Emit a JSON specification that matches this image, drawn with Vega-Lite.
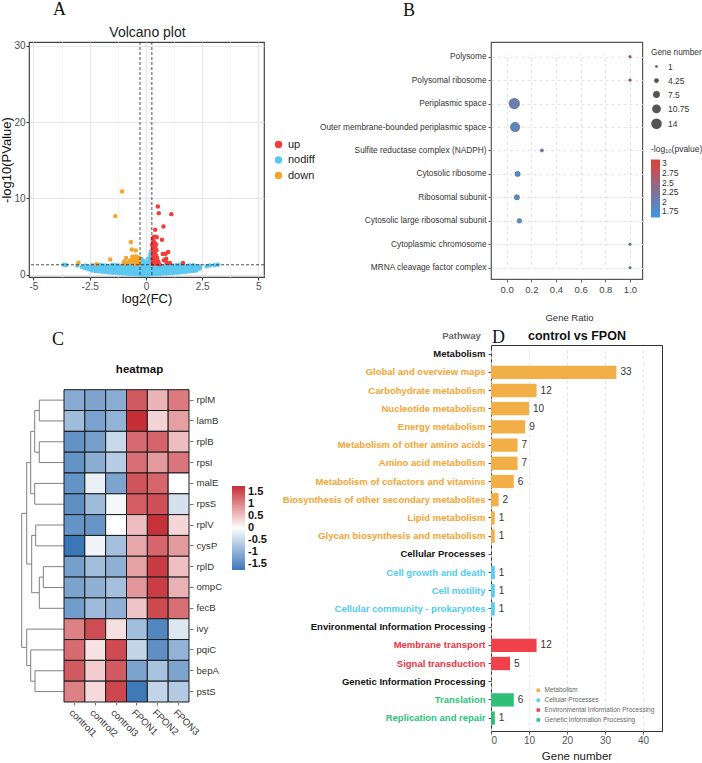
{
  "$schema": "https://vega.github.io/schema/vega-lite/v6.json",
  "background": "white",
  "padding": {"left": 0, "top": 0, "right": 0, "bottom": 0},
  "config": {
    "font": "Liberation Sans",
    "view": {"stroke": "#444", "strokeWidth": 1.2},
    "title": {"font": "Liberation Serif", "fontSize": 18, "fontWeight": "normal", "color": "#111", "anchor": "start", "frame": "group", "baseline": "alphabetic"},
    "axis": {"labelFont": "Liberation Sans", "titleFont": "Liberation Sans", "domain": false},
    "legend": {"labelFont": "Liberation Sans", "titleFont": "Liberation Sans", "padding": 0}
  },
  "bounds": "flush",
  "columns": 2,
  "spacing": {"row": 66, "column": 227},
  "resolve": {
    "scale": {"color": "independent", "size": "independent"},
    "legend": {"color": "independent", "size": "independent"}
  },
  "concat": [
    {
      "width": 235,
      "height": 235,
      "title": {"text": "A", "dx": 24, "offset": 6},
      "layer": [
        {
          "data": {"name": "volcano"},
          "mark": {"type": "circle", "size": 20, "opacity": 1},
          "encoding": {
            "x": {
              "field": "fc", "type": "quantitative",
              "scale": {"domain": [-5.2, 5.25], "nice": false, "zero": false},
              "axis": {
                "orient": "bottom",
                "values": [-5, -3.75, -2.5, -1.25, 0, 1.25, 2.5, 3.75, 5],
                "labelExpr": "indexof([-5, -2.5, 0, 2.5, 5], datum.value) >= 0 ? '' + datum.value : ''",
                "tickOpacity": {"condition": {"test": "indexof([-5, -2.5, 0, 2.5, 5], datum.value) < 0", "value": 0}, "value": 1},
                "gridColor": {"condition": {"test": "indexof([-5, -2.5, 0, 2.5, 5], datum.value) < 0", "value": "#F4F4F6"}, "value": "#E6E6EA"},
                "grid": true, "tickSize": 3, "tickColor": "#333",
                "labelColor": "#4D4D4D", "labelFontSize": 10, "labelPadding": 1,
                "title": "log2(FC)", "titleFontSize": 13, "titleFontWeight": "normal", "titleColor": "#111", "titlePadding": 1
              }
            },
            "y": {
              "field": "p", "type": "quantitative", "title": "-log10(PValue)",
              "scale": {"domain": [-0.3, 30.5], "nice": false, "zero": false},
              "axis": {
                "values": [0, 5, 10, 15, 20, 25, 30],
                "labelExpr": "indexof([0, 10, 20, 30], datum.value) >= 0 ? '' + datum.value : ''",
                "tickOpacity": {"condition": {"test": "indexof([0, 10, 20, 30], datum.value) < 0", "value": 0}, "value": 1},
                "gridColor": {"condition": {"test": "indexof([0, 10, 20, 30], datum.value) < 0", "value": "#F4F4F6"}, "value": "#E6E6EA"},
                "grid": true, "tickSize": 3, "tickColor": "#333",
                "labelColor": "#4D4D4D", "labelFontSize": 10, "labelPadding": 1,
                "titleFontSize": 13, "titleFontWeight": "normal", "titleColor": "#111", "titlePadding": 0
              }
            },
            "color": {
              "field": "g", "type": "nominal",
              "scale": {"domain": ["up", "nodiff", "down"], "range": ["#F23D3D", "#5BC8F2", "#F5A52A"]},
              "legend": {"title": null, "orient": "none", "legendX": 244, "legendY": 97, "labelFontSize": 11, "labelColor": "#222", "symbolSize": 55, "symbolType": "circle", "symbolStrokeWidth": 0, "rowPadding": 3.5, "labelOffset": 4}
            }
          }
        },
        {
          "data": {"values": [{"v": -0.263}, {"v": 0.263}]},
          "mark": {"type": "rule", "strokeDash": [3, 2], "color": "#222", "strokeWidth": 0.8},
          "encoding": {
            "x": {
              "field": "v", "type": "quantitative",
              "scale": {"domain": [-5.2, 5.25], "nice": false, "zero": false},
              "axis": {"orient": "top", "title": "Volcano plot", "labels": false, "ticks": false, "grid": false, "titleX": 118, "titleY": -6, "titleBaseline": "alphabetic", "titleAlign": "center", "titleFontSize": 14, "titleFontWeight": "normal", "titleColor": "#222"}
            }
          }
        },
        {
          "data": {"values": [{"h": 1.301}]},
          "mark": {"type": "rule", "strokeDash": [3, 2], "color": "#222", "strokeWidth": 0.8},
          "encoding": {"y": {"field": "h", "type": "quantitative", "title": "-log10(PValue)"}}
        }
      ],
      "resolve": {"scale": {"x": "independent"}}
    },
    {
      "width": 151.3,
      "height": 237,
      "title": {"text": "B", "dx": -88, "offset": 22},
      "view": {"stroke": "#555"},
      "data": {"name": "go"},
      "mark": {"type": "circle", "opacity": 1, "stroke": "#4A4A4A", "strokeWidth": 0.4},
      "encoding": {
        "x": {
          "field": "ratio", "type": "quantitative",
          "scale": {"domain": [-0.127, 1.1], "nice": false, "zero": false},
          "axis": {"values": [0, 0.2, 0.4, 0.6, 0.8, 1], "format": ".1f", "title": "Gene Ratio", "titleX": 78, "titleY": 41, "titleBaseline": "alphabetic", "titleAlign": "center", "titleFontSize": 9.5, "titleFontWeight": "normal", "titleColor": "#333", "grid": true, "gridDash": [3, 3], "gridColor": "#E3E3E3", "tickSize": 3, "tickColor": "#666", "labelFontSize": 9.5, "labelColor": "#444", "labelPadding": 2}
        },
        "y": {
          "field": "term", "type": "nominal",
          "sort": ["Polysome", "Polysomal ribosome", "Periplasmic space", "Outer membrane-bounded periplasmic space", "Sulfite reductase complex (NADPH)", "Cytosolic ribosome", "Ribosomal subunit", "Cytosolic large ribosomal subunit", "Cytoplasmic chromosome", "MRNA cleavage factor complex"],
          "scale": {"type": "point", "range": [14.7, 225.7], "padding": 0},
          "axis": {"title": null, "grid": true, "gridDash": [3, 3], "gridColor": "#E3E3E3", "tickSize": 3, "tickColor": "#666", "labelFontSize": 8.3, "labelColor": "#333", "labelPadding": 2, "labelLimit": 300}
        },
        "size": {
          "field": "count", "type": "quantitative",
          "scale": {"type": "pow", "exponent": 1.5, "domain": [1, 14], "range": [7, 113]},
          "legend": {"title": "Gene number", "orient": "none", "legendX": 160, "legendY": 6, "values": [1, 4.25, 7.5, 10.75, 14], "labelExpr": "'' + datum.value", "symbolFillColor": "#555", "symbolStrokeColor": "#555", "symbolStrokeWidth": 0, "titleFontSize": 8.3, "titleFontWeight": "normal", "titleColor": "#333", "labelFontSize": 8.5, "labelColor": "#333", "rowPadding": 5, "labelOffset": 6, "titlePadding": 6}
        },
        "color": {
          "field": "lp", "type": "quantitative",
          "scale": {"domain": [1.59, 3.1], "range": ["#3B97E3", "#DD4237"], "interpolate": "rgb"},
          "legend": {"title": "-log₁₀(pvalue)", "orient": "none", "legendX": 160, "legendY": 103, "direction": "vertical", "gradientLength": 58, "gradientThickness": 9, "gradientStrokeWidth": 0, "values": [1.75, 2, 2.25, 2.5, 2.75, 3], "labelExpr": "'' + datum.value", "labelFontSize": 8.5, "labelColor": "#333", "titleFontSize": 8.5, "titleFontWeight": "normal", "titleColor": "#333", "labelOffset": 2, "titlePadding": 6}
        }
      }
    },
    {
      "width": 160,
      "height": 357,
      "title": {"text": "C", "dx": 23, "offset": -4},
      "view": {"stroke": null},
      "layer": [
        {
          "data": {"name": "dendro"},
          "mark": {"type": "rule", "color": "#808080", "strokeWidth": 1},
          "encoding": {
            "x": {
              "field": "h1", "type": "quantitative",
              "scale": {"domain": [0, 35], "range": [35, 0], "nice": false, "zero": false},
              "axis": {"orient": "top", "title": "heatmap", "labels": false, "ticks": false, "grid": false, "titleX": 110, "titleY": 27.5, "titleBaseline": "alphabetic", "titleAlign": "center", "titleFontSize": 11.5, "titleFontWeight": "bold", "titleColor": "#111"}
            },
            "x2": {"field": "h2"},
            "y": {"field": "r1", "type": "quantitative", "scale": {"domain": [0.5, 15.5], "range": [44.7, 357], "nice": false, "zero": false}, "axis": null},
            "y2": {"field": "r2"}
          }
        },
        {
          "data": {"name": "heat"},
          "mark": {"type": "rect", "stroke": "#1A1A1A", "strokeWidth": 1},
          "encoding": {
            "x": {
              "field": "s", "type": "nominal",
              "sort": ["control1", "control2", "control3", "FPON1", "FPON2", "FPON3"],
              "scale": {"range": [35, 160], "paddingInner": 0, "paddingOuter": 0},
              "axis": {"orient": "bottom", "title": null, "labelAngle": 45, "labelAlign": "left", "labelBaseline": "top", "labelFontSize": 9.6, "labelColor": "#333", "tickSize": 3, "tickColor": "#777", "labelPadding": 2}
            },
            "y": {
              "field": "gene", "type": "nominal",
              "sort": ["rplM", "lamB", "rplB", "rpsI", "malE", "rpsS", "rplV", "cysP", "rplD", "ompC", "fecB", "ivy", "pqiC", "bepA", "pstS"],
              "scale": {"range": [44.7, 357], "paddingInner": 0, "paddingOuter": 0},
              "axis": {"orient": "right", "title": null, "labelFontSize": 9.6, "labelColor": "#333", "tickSize": 4, "tickColor": "#777", "labelPadding": 3}
            },
            "color": {
              "field": "z", "type": "quantitative",
              "scale": {"domain": [-1.76, 0, 1.76], "range": ["#3B76B6", "#FFFFFF", "#C62D35"], "interpolate": "rgb"},
              "legend": {"title": null, "orient": "none", "legendX": 203, "legendY": 141, "direction": "vertical", "gradientLength": 84, "gradientThickness": 13, "gradientStrokeWidth": 0, "values": [-1.5, -1, -0.5, 0, 0.5, 1, 1.5], "labelExpr": "'' + datum.value", "labelFontSize": 11, "labelFontWeight": "bold", "labelColor": "#111", "labelOffset": 3}
            }
          }
        }
      ],
      "resolve": {"scale": {"x": "independent", "y": "independent"}}
    },
    {
      "width": 171,
      "height": 386,
      "title": {"text": "D", "dx": 1, "offset": -18},
      "view": {"stroke": "#333", "strokeWidth": 1},
      "layer": [
        {
          "data": {"name": "kegg"},
          "mark": {"type": "bar"},
          "encoding": {
            "y": {
              "field": "pathway", "type": "nominal", "title": "Pathway",
              "scale": {
                "domain": ["Metabolism", "Global and overview maps", "Carbohydrate metabolism", "Nucleotide metabolism", "Energy metabolism", "Metabolism of other amino acids", "Amino acid metabolism", "Metabolism of cofactors and vitamins", "Biosynthesis of other secondary metabolites", "Lipid metabolism", "Glycan biosynthesis and metabolism", "Cellular Processes", "Cell growth and death", "Cell motility", "Cellular community - prokaryotes", "Environmental Information Processing", "Membrane transport", "Signal transduction", "Genetic Information Processing", "Translation", "Replication and repair"],
                "range": [0, 382.2], "paddingInner": 0.27, "paddingOuter": 0.135
              },
              "axis": {
                "titleAngle": 0, "titleX": -30, "titleY": -7, "titleAlign": "center", "titleBaseline": "alphabetic", "titleFontSize": 9.5, "titleFontWeight": "bold", "titleColor": "#666",
                "labelFontSize": 9.5, "labelFontWeight": "bold", "labelLimit": 300, "labelPadding": 3, "tickSize": 3, "tickColor": "#555", "grid": false,
                "labelColor": {
                  "condition": [
                    {"test": "indexof(['Global and overview maps', 'Carbohydrate metabolism', 'Nucleotide metabolism', 'Energy metabolism', 'Metabolism of other amino acids', 'Amino acid metabolism', 'Metabolism of cofactors and vitamins', 'Biosynthesis of other secondary metabolites', 'Lipid metabolism', 'Glycan biosynthesis and metabolism'], datum.value) >= 0", "value": "#F5A430"},
                    {"test": "indexof(['Cell growth and death', 'Cell motility', 'Cellular community - prokaryotes'], datum.value) >= 0", "value": "#4FCBF0"},
                    {"test": "indexof(['Membrane transport', 'Signal transduction'], datum.value) >= 0", "value": "#EF3340"},
                    {"test": "indexof(['Translation', 'Replication and repair'], datum.value) >= 0", "value": "#2BC27A"}
                  ],
                  "value": "#111"
                }
              }
            },
            "x": {
              "field": "n", "type": "quantitative",
              "scale": {"domain": [0, 45], "nice": false, "zero": false},
              "axis": {"orient": "bottom", "values": [0, 10, 20, 30, 40], "grid": true, "gridDash": [3, 3], "gridColor": "#DADADA", "gridWidth": 0.8, "tickSize": 3, "tickColor": "#555", "labelFontSize": 10, "labelColor": "#555", "labelPadding": 1, "title": "Gene number", "titleFontSize": 11.5, "titleFontWeight": "normal", "titleColor": "#222", "titleX": 85.5, "titleY": 28, "titleAlign": "center", "titleBaseline": "alphabetic"}
            },
            "color": {
              "field": "cat", "type": "nominal",
              "scale": {"domain": ["Metabolism", "Cellular Processes", "Environmental Information Processing", "Genetic Information Processing"], "range": ["#F3AF47", "#58CDF3", "#F0404A", "#2FBF78"]},
              "legend": {"title": null, "orient": "none", "legendX": 44, "legendY": 342, "symbolType": "square", "symbolSize": 12, "symbolStrokeWidth": 0, "labelFontSize": 6.5, "labelColor": "#666", "rowPadding": 2.9, "labelOffset": 3, "labelLimit": 300}
            }
          }
        },
        {
          "data": {"name": "kegg"},
          "mark": {"type": "text", "align": "left", "baseline": "middle", "dx": 4, "fontSize": 10, "color": "#333"},
          "encoding": {
            "y": {"field": "pathway", "type": "nominal", "title": "Pathway"},
            "x": {
              "field": "n", "type": "quantitative",
              "scale": {"domain": [0, 45], "nice": false, "zero": false},
              "axis": {"orient": "top", "title": "control vs FPON", "labels": false, "ticks": false, "grid": false, "titleX": 85.5, "titleY": -6, "titleAlign": "center", "titleBaseline": "alphabetic", "titleFontSize": 12.5, "titleFontWeight": "bold", "titleColor": "#111"}
            },
            "text": {"field": "n", "type": "quantitative"}
          }
        }
      ],
      "resolve": {"scale": {"x": "independent"}}
    }
  ],
  "datasets": {
    "volcano": [
      {"fc": -3.65, "p": 1.32, "g": "nodiff"}, {"fc": -3.55, "p": 1.28, "g": "nodiff"}, {"fc": -3.05, "p": 1.2, "g": "nodiff"},
      {"fc": -2.85, "p": 1.0, "g": "nodiff"}, {"fc": -2.7, "p": 0.85, "g": "nodiff"}, {"fc": -2.7, "p": 1.2, "g": "nodiff"},
      {"fc": -2.55, "p": 0.7, "g": "nodiff"}, {"fc": -2.55, "p": 1.05, "g": "nodiff"},
      {"fc": -2.4, "p": 0.55, "g": "nodiff"}, {"fc": -2.4, "p": 0.9, "g": "nodiff"}, {"fc": -2.4, "p": 1.25, "g": "nodiff"},
      {"fc": -2.25, "p": 0.5, "g": "nodiff"}, {"fc": -2.25, "p": 0.8, "g": "nodiff"}, {"fc": -2.25, "p": 1.1, "g": "nodiff"},
      {"fc": -2.1, "p": 0.45, "g": "nodiff"}, {"fc": -2.1, "p": 0.75, "g": "nodiff"}, {"fc": -2.1, "p": 1.05, "g": "nodiff"}, {"fc": -2.1, "p": 1.3, "g": "nodiff"},
      {"fc": -1.95, "p": 0.4, "g": "nodiff"}, {"fc": -1.95, "p": 0.7, "g": "nodiff"}, {"fc": -1.95, "p": 1.0, "g": "nodiff"}, {"fc": -1.95, "p": 1.25, "g": "nodiff"},
      {"fc": -1.8, "p": 0.35, "g": "nodiff"}, {"fc": -1.8, "p": 0.6, "g": "nodiff"}, {"fc": -1.8, "p": 0.9, "g": "nodiff"}, {"fc": -1.8, "p": 1.2, "g": "nodiff"},
      {"fc": -1.65, "p": 0.3, "g": "nodiff"}, {"fc": -1.65, "p": 0.55, "g": "nodiff"}, {"fc": -1.65, "p": 0.85, "g": "nodiff"}, {"fc": -1.65, "p": 1.15, "g": "nodiff"},
      {"fc": -1.5, "p": 0.25, "g": "nodiff"}, {"fc": -1.5, "p": 0.5, "g": "nodiff"}, {"fc": -1.5, "p": 0.8, "g": "nodiff"}, {"fc": -1.5, "p": 1.1, "g": "nodiff"}, {"fc": -1.5, "p": 1.3, "g": "nodiff"},
      {"fc": -1.35, "p": 0.25, "g": "nodiff"}, {"fc": -1.35, "p": 0.5, "g": "nodiff"}, {"fc": -1.35, "p": 0.75, "g": "nodiff"}, {"fc": -1.35, "p": 1.0, "g": "nodiff"}, {"fc": -1.35, "p": 1.25, "g": "nodiff"},
      {"fc": -1.2, "p": 0.2, "g": "nodiff"}, {"fc": -1.2, "p": 0.45, "g": "nodiff"}, {"fc": -1.2, "p": 0.7, "g": "nodiff"}, {"fc": -1.2, "p": 0.95, "g": "nodiff"}, {"fc": -1.2, "p": 1.2, "g": "nodiff"},
      {"fc": -1.05, "p": 0.15, "g": "nodiff"}, {"fc": -1.05, "p": 0.4, "g": "nodiff"}, {"fc": -1.05, "p": 0.65, "g": "nodiff"}, {"fc": -1.05, "p": 0.9, "g": "nodiff"}, {"fc": -1.05, "p": 1.15, "g": "nodiff"},
      {"fc": -0.9, "p": 0.15, "g": "nodiff"}, {"fc": -0.9, "p": 0.4, "g": "nodiff"}, {"fc": -0.9, "p": 0.65, "g": "nodiff"}, {"fc": -0.9, "p": 0.9, "g": "nodiff"}, {"fc": -0.9, "p": 1.15, "g": "nodiff"}, {"fc": -0.9, "p": 1.3, "g": "nodiff"},
      {"fc": -0.75, "p": 0.1, "g": "nodiff"}, {"fc": -0.75, "p": 0.35, "g": "nodiff"}, {"fc": -0.75, "p": 0.6, "g": "nodiff"}, {"fc": -0.75, "p": 0.85, "g": "nodiff"}, {"fc": -0.75, "p": 1.1, "g": "nodiff"}, {"fc": -0.75, "p": 1.3, "g": "nodiff"},
      {"fc": -0.6, "p": 0.1, "g": "nodiff"}, {"fc": -0.6, "p": 0.3, "g": "nodiff"}, {"fc": -0.6, "p": 0.55, "g": "nodiff"}, {"fc": -0.6, "p": 0.8, "g": "nodiff"}, {"fc": -0.6, "p": 1.05, "g": "nodiff"}, {"fc": -0.6, "p": 1.25, "g": "nodiff"},
      {"fc": -0.45, "p": 0.05, "g": "nodiff"}, {"fc": -0.45, "p": 0.25, "g": "nodiff"}, {"fc": -0.45, "p": 0.5, "g": "nodiff"}, {"fc": -0.45, "p": 0.75, "g": "nodiff"}, {"fc": -0.45, "p": 1.0, "g": "nodiff"}, {"fc": -0.45, "p": 1.25, "g": "nodiff"},
      {"fc": -0.3, "p": 0.05, "g": "nodiff"}, {"fc": -0.3, "p": 0.25, "g": "nodiff"}, {"fc": -0.3, "p": 0.5, "g": "nodiff"}, {"fc": -0.3, "p": 0.75, "g": "nodiff"}, {"fc": -0.3, "p": 1.0, "g": "nodiff"}, {"fc": -0.3, "p": 1.25, "g": "nodiff"},
      {"fc": -0.2, "p": 0.0, "g": "nodiff"}, {"fc": -0.2, "p": 0.3, "g": "nodiff"}, {"fc": -0.2, "p": 0.6, "g": "nodiff"}, {"fc": -0.2, "p": 0.9, "g": "nodiff"}, {"fc": -0.2, "p": 1.2, "g": "nodiff"}, {"fc": -0.2, "p": 1.5, "g": "nodiff"}, {"fc": -0.2, "p": 1.8, "g": "nodiff"}, {"fc": -0.2, "p": 2.1, "g": "nodiff"},
      {"fc": -0.1, "p": 0.0, "g": "nodiff"}, {"fc": -0.1, "p": 0.3, "g": "nodiff"}, {"fc": -0.1, "p": 0.6, "g": "nodiff"}, {"fc": -0.1, "p": 0.9, "g": "nodiff"}, {"fc": -0.1, "p": 1.2, "g": "nodiff"}, {"fc": -0.1, "p": 1.5, "g": "nodiff"}, {"fc": -0.1, "p": 1.8, "g": "nodiff"},
      {"fc": 0.0, "p": 0.0, "g": "nodiff"}, {"fc": 0.0, "p": 0.25, "g": "nodiff"}, {"fc": 0.0, "p": 0.5, "g": "nodiff"}, {"fc": 0.0, "p": 0.8, "g": "nodiff"}, {"fc": 0.0, "p": 1.1, "g": "nodiff"}, {"fc": 0.0, "p": 1.4, "g": "nodiff"},
      {"fc": 0.1, "p": 0.0, "g": "nodiff"}, {"fc": 0.1, "p": 0.3, "g": "nodiff"}, {"fc": 0.1, "p": 0.6, "g": "nodiff"}, {"fc": 0.1, "p": 0.9, "g": "nodiff"}, {"fc": 0.1, "p": 1.2, "g": "nodiff"}, {"fc": 0.1, "p": 1.5, "g": "nodiff"}, {"fc": 0.1, "p": 1.8, "g": "nodiff"}, {"fc": 0.1, "p": 2.1, "g": "nodiff"},
      {"fc": 0.2, "p": 0.05, "g": "nodiff"}, {"fc": 0.2, "p": 0.35, "g": "nodiff"}, {"fc": 0.2, "p": 0.65, "g": "nodiff"}, {"fc": 0.2, "p": 0.95, "g": "nodiff"}, {"fc": 0.2, "p": 1.25, "g": "nodiff"}, {"fc": 0.2, "p": 1.55, "g": "nodiff"}, {"fc": 0.2, "p": 1.85, "g": "nodiff"}, {"fc": 0.2, "p": 2.15, "g": "nodiff"}, {"fc": 0.2, "p": 2.45, "g": "nodiff"}, {"fc": 0.2, "p": 2.75, "g": "nodiff"}, {"fc": 0.22, "p": 3.0, "g": "nodiff"},
      {"fc": 0.3, "p": 0.05, "g": "nodiff"}, {"fc": 0.3, "p": 0.3, "g": "nodiff"}, {"fc": 0.3, "p": 0.55, "g": "nodiff"}, {"fc": 0.3, "p": 0.8, "g": "nodiff"}, {"fc": 0.3, "p": 1.05, "g": "nodiff"}, {"fc": 0.3, "p": 1.25, "g": "nodiff"},
      {"fc": 0.45, "p": 0.1, "g": "nodiff"}, {"fc": 0.45, "p": 0.35, "g": "nodiff"}, {"fc": 0.45, "p": 0.6, "g": "nodiff"}, {"fc": 0.45, "p": 0.85, "g": "nodiff"}, {"fc": 0.45, "p": 1.1, "g": "nodiff"}, {"fc": 0.45, "p": 1.3, "g": "nodiff"},
      {"fc": 0.6, "p": 0.1, "g": "nodiff"}, {"fc": 0.6, "p": 0.35, "g": "nodiff"}, {"fc": 0.6, "p": 0.6, "g": "nodiff"}, {"fc": 0.6, "p": 0.85, "g": "nodiff"}, {"fc": 0.6, "p": 1.1, "g": "nodiff"}, {"fc": 0.6, "p": 1.3, "g": "nodiff"},
      {"fc": 0.75, "p": 0.15, "g": "nodiff"}, {"fc": 0.75, "p": 0.4, "g": "nodiff"}, {"fc": 0.75, "p": 0.65, "g": "nodiff"}, {"fc": 0.75, "p": 0.9, "g": "nodiff"}, {"fc": 0.75, "p": 1.15, "g": "nodiff"},
      {"fc": 0.9, "p": 0.15, "g": "nodiff"}, {"fc": 0.9, "p": 0.4, "g": "nodiff"}, {"fc": 0.9, "p": 0.65, "g": "nodiff"}, {"fc": 0.9, "p": 0.9, "g": "nodiff"}, {"fc": 0.9, "p": 1.15, "g": "nodiff"}, {"fc": 0.9, "p": 1.3, "g": "nodiff"},
      {"fc": 1.05, "p": 0.2, "g": "nodiff"}, {"fc": 1.05, "p": 0.45, "g": "nodiff"}, {"fc": 1.05, "p": 0.7, "g": "nodiff"}, {"fc": 1.05, "p": 0.95, "g": "nodiff"}, {"fc": 1.05, "p": 1.2, "g": "nodiff"},
      {"fc": 1.2, "p": 0.2, "g": "nodiff"}, {"fc": 1.2, "p": 0.45, "g": "nodiff"}, {"fc": 1.2, "p": 0.7, "g": "nodiff"}, {"fc": 1.2, "p": 0.95, "g": "nodiff"}, {"fc": 1.2, "p": 1.2, "g": "nodiff"},
      {"fc": 1.35, "p": 0.25, "g": "nodiff"}, {"fc": 1.35, "p": 0.5, "g": "nodiff"}, {"fc": 1.35, "p": 0.75, "g": "nodiff"}, {"fc": 1.35, "p": 1.0, "g": "nodiff"}, {"fc": 1.35, "p": 1.25, "g": "nodiff"},
      {"fc": 1.5, "p": 0.3, "g": "nodiff"}, {"fc": 1.5, "p": 0.55, "g": "nodiff"}, {"fc": 1.5, "p": 0.8, "g": "nodiff"}, {"fc": 1.5, "p": 1.05, "g": "nodiff"}, {"fc": 1.5, "p": 1.3, "g": "nodiff"},
      {"fc": 1.65, "p": 0.35, "g": "nodiff"}, {"fc": 1.65, "p": 0.6, "g": "nodiff"}, {"fc": 1.65, "p": 0.85, "g": "nodiff"}, {"fc": 1.65, "p": 1.1, "g": "nodiff"},
      {"fc": 1.8, "p": 0.4, "g": "nodiff"}, {"fc": 1.8, "p": 0.65, "g": "nodiff"}, {"fc": 1.8, "p": 0.9, "g": "nodiff"}, {"fc": 1.8, "p": 1.15, "g": "nodiff"},
      {"fc": 1.95, "p": 0.45, "g": "nodiff"}, {"fc": 1.95, "p": 0.7, "g": "nodiff"}, {"fc": 1.95, "p": 0.95, "g": "nodiff"}, {"fc": 1.95, "p": 1.2, "g": "nodiff"},
      {"fc": 2.1, "p": 0.5, "g": "nodiff"}, {"fc": 2.1, "p": 0.75, "g": "nodiff"}, {"fc": 2.1, "p": 1.0, "g": "nodiff"}, {"fc": 2.1, "p": 1.25, "g": "nodiff"},
      {"fc": 2.25, "p": 0.55, "g": "nodiff"}, {"fc": 2.25, "p": 0.85, "g": "nodiff"}, {"fc": 2.25, "p": 1.15, "g": "nodiff"},
      {"fc": 2.4, "p": 0.8, "g": "nodiff"}, {"fc": 2.4, "p": 1.1, "g": "nodiff"}, {"fc": 2.7, "p": 1.1, "g": "nodiff"}, {"fc": 2.85, "p": 1.2, "g": "nodiff"}, {"fc": 3.05, "p": 1.25, "g": "nodiff"}, {"fc": 3.2, "p": 1.3, "g": "nodiff"},
      {"fc": 0.53, "p": 8.94, "g": "up"}, {"fc": 0.57, "p": 8.07, "g": "up"}, {"fc": 1.13, "p": 7.94, "g": "up"}, {"fc": 0.78, "p": 6.33, "g": "up"},
      {"fc": 0.41, "p": 5.89, "g": "up"}, {"fc": 0.35, "p": 4.95, "g": "up"}, {"fc": 0.42, "p": 4.98, "g": "up"}, {"fc": 0.48, "p": 4.9, "g": "up"},
      {"fc": 0.3, "p": 4.75, "g": "up"}, {"fc": 0.71, "p": 4.58, "g": "up"}, {"fc": 0.33, "p": 4.4, "g": "up"}, {"fc": 0.38, "p": 4.2, "g": "up"},
      {"fc": 0.3, "p": 4.05, "g": "up"}, {"fc": 0.45, "p": 3.95, "g": "up"}, {"fc": 0.28, "p": 3.8, "g": "up"}, {"fc": 0.36, "p": 3.65, "g": "up"},
      {"fc": 0.42, "p": 3.5, "g": "up"}, {"fc": 0.3, "p": 3.3, "g": "up"}, {"fc": 0.47, "p": 3.2, "g": "up"}, {"fc": 0.33, "p": 3.0, "g": "up"},
      {"fc": 0.4, "p": 2.85, "g": "up"}, {"fc": 0.99, "p": 2.97, "g": "up"}, {"fc": 0.88, "p": 2.75, "g": "up"}, {"fc": 0.75, "p": 2.7, "g": "up"},
      {"fc": 0.3, "p": 2.6, "g": "up"}, {"fc": 0.45, "p": 2.5, "g": "up"}, {"fc": 0.35, "p": 2.3, "g": "up"}, {"fc": 0.5, "p": 2.2, "g": "up"},
      {"fc": 0.9, "p": 2.09, "g": "up"}, {"fc": 0.28, "p": 2.05, "g": "up"}, {"fc": 0.42, "p": 1.95, "g": "up"}, {"fc": 0.8, "p": 1.9, "g": "up"},
      {"fc": 0.32, "p": 1.75, "g": "up"}, {"fc": 0.55, "p": 1.7, "g": "up"}, {"fc": 0.38, "p": 1.55, "g": "up"}, {"fc": 0.92, "p": 1.6, "g": "up"},
      {"fc": 1.07, "p": 1.53, "g": "up"}, {"fc": 1.65, "p": 1.53, "g": "up"}, {"fc": 0.48, "p": 1.45, "g": "up"}, {"fc": 0.3, "p": 1.4, "g": "up"}, {"fc": 0.6, "p": 1.38, "g": "up"},
      {"fc": -1.06, "p": 10.9, "g": "down"}, {"fc": -1.36, "p": 7.68, "g": "down"}, {"fc": -0.67, "p": 4.28, "g": "down"}, {"fc": -0.63, "p": 3.31, "g": "down"},
      {"fc": -0.45, "p": 3.18, "g": "down"}, {"fc": -0.88, "p": 2.18, "g": "down"}, {"fc": -1.59, "p": 2.0, "g": "down"}, {"fc": -0.96, "p": 1.73, "g": "down"},
      {"fc": -3.0, "p": 1.57, "g": "down"}, {"fc": -2.21, "p": 1.38, "g": "down"}, {"fc": -1.0, "p": 1.45, "g": "down"},
      {"fc": -0.6, "p": 2.35, "g": "down"}, {"fc": -0.52, "p": 2.3, "g": "down"}, {"fc": -0.45, "p": 2.4, "g": "down"}, {"fc": -0.38, "p": 2.3, "g": "down"},
      {"fc": -0.3, "p": 2.2, "g": "down"}, {"fc": -0.58, "p": 2.05, "g": "down"}, {"fc": -0.5, "p": 1.95, "g": "down"}, {"fc": -0.42, "p": 2.0, "g": "down"},
      {"fc": -0.33, "p": 1.9, "g": "down"}, {"fc": -0.6, "p": 1.7, "g": "down"}, {"fc": -0.48, "p": 1.65, "g": "down"}, {"fc": -0.36, "p": 1.6, "g": "down"},
      {"fc": -0.55, "p": 1.45, "g": "down"}, {"fc": -0.4, "p": 1.4, "g": "down"}, {"fc": -0.3, "p": 1.5, "g": "down"}, {"fc": -0.7, "p": 1.9, "g": "down"}, {"fc": -0.8, "p": 1.55, "g": "down"}
    ],
    "go": [
      {"term": "Polysome", "ratio": 1.0, "count": 1, "lp": 3.03},
      {"term": "Polysomal ribosome", "ratio": 1.0, "count": 1, "lp": 3.0},
      {"term": "Periplasmic space", "ratio": 0.062, "count": 14, "lp": 2.02},
      {"term": "Outer membrane-bounded periplasmic space", "ratio": 0.068, "count": 12, "lp": 1.92},
      {"term": "Sulfite reductase complex (NADPH)", "ratio": 0.286, "count": 2, "lp": 1.85},
      {"term": "Cytosolic ribosome", "ratio": 0.089, "count": 5, "lp": 1.75},
      {"term": "Ribosomal subunit", "ratio": 0.083, "count": 5, "lp": 1.77},
      {"term": "Cytosolic large ribosomal subunit", "ratio": 0.103, "count": 4, "lp": 1.7},
      {"term": "Cytoplasmic chromosome", "ratio": 1.0, "count": 1, "lp": 1.88},
      {"term": "MRNA cleavage factor complex", "ratio": 1.0, "count": 1, "lp": 1.88}
    ],
    "kegg": [
      {"pathway": "Global and overview maps", "n": 33, "cat": "Metabolism"},
      {"pathway": "Carbohydrate metabolism", "n": 12, "cat": "Metabolism"},
      {"pathway": "Nucleotide metabolism", "n": 10, "cat": "Metabolism"},
      {"pathway": "Energy metabolism", "n": 9, "cat": "Metabolism"},
      {"pathway": "Metabolism of other amino acids", "n": 7, "cat": "Metabolism"},
      {"pathway": "Amino acid metabolism", "n": 7, "cat": "Metabolism"},
      {"pathway": "Metabolism of cofactors and vitamins", "n": 6, "cat": "Metabolism"},
      {"pathway": "Biosynthesis of other secondary metabolites", "n": 2, "cat": "Metabolism"},
      {"pathway": "Lipid metabolism", "n": 1, "cat": "Metabolism"},
      {"pathway": "Glycan biosynthesis and metabolism", "n": 1, "cat": "Metabolism"},
      {"pathway": "Cell growth and death", "n": 1, "cat": "Cellular Processes"},
      {"pathway": "Cell motility", "n": 1, "cat": "Cellular Processes"},
      {"pathway": "Cellular community - prokaryotes", "n": 1, "cat": "Cellular Processes"},
      {"pathway": "Membrane transport", "n": 12, "cat": "Environmental Information Processing"},
      {"pathway": "Signal transduction", "n": 5, "cat": "Environmental Information Processing"},
      {"pathway": "Translation", "n": 6, "cat": "Genetic Information Processing"},
      {"pathway": "Replication and repair", "n": 1, "cat": "Genetic Information Processing"}
    ],
    "heat": [
      {"gene": "rplM", "s": "control1", "z": -1.08}, {"gene": "rplM", "s": "control2", "z": -1.15}, {"gene": "rplM", "s": "control3", "z": -1.05}, {"gene": "rplM", "s": "FPON1", "z": 1.38}, {"gene": "rplM", "s": "FPON2", "z": 0.62}, {"gene": "rplM", "s": "FPON3", "z": 1.11},
      {"gene": "lamB", "s": "control1", "z": -0.85}, {"gene": "lamB", "s": "control2", "z": -1.19}, {"gene": "lamB", "s": "control3", "z": -0.98}, {"gene": "lamB", "s": "FPON1", "z": 1.74}, {"gene": "lamB", "s": "FPON2", "z": 0.37}, {"gene": "lamB", "s": "FPON3", "z": 0.8},
      {"gene": "rplB", "s": "control1", "z": -1.4}, {"gene": "rplB", "s": "control2", "z": -1.23}, {"gene": "rplB", "s": "control3", "z": -0.49}, {"gene": "rplB", "s": "FPON1", "z": 1.25}, {"gene": "rplB", "s": "FPON2", "z": 1.3}, {"gene": "rplB", "s": "FPON3", "z": 0.55},
      {"gene": "rpsI", "s": "control1", "z": -1.39}, {"gene": "rpsI", "s": "control2", "z": -1.05}, {"gene": "rpsI", "s": "control3", "z": -0.66}, {"gene": "rpsI", "s": "FPON1", "z": 1.21}, {"gene": "rpsI", "s": "FPON2", "z": 0.85}, {"gene": "rpsI", "s": "FPON3", "z": 1.15},
      {"gene": "malE", "s": "control1", "z": -1.39}, {"gene": "malE", "s": "control2", "z": -0.21}, {"gene": "malE", "s": "control3", "z": -1.17}, {"gene": "malE", "s": "FPON1", "z": 1.43}, {"gene": "malE", "s": "FPON2", "z": 1.28}, {"gene": "malE", "s": "FPON3", "z": 0.0},
      {"gene": "rpsS", "s": "control1", "z": -1.44}, {"gene": "rpsS", "s": "control2", "z": -0.87}, {"gene": "rpsS", "s": "control3", "z": -0.09}, {"gene": "rpsS", "s": "FPON1", "z": 1.36}, {"gene": "rpsS", "s": "FPON2", "z": 1.47}, {"gene": "rpsS", "s": "FPON3", "z": -0.38},
      {"gene": "rplV", "s": "control1", "z": -1.39}, {"gene": "rplV", "s": "control2", "z": -1.36}, {"gene": "rplV", "s": "control3", "z": 0.0}, {"gene": "rplV", "s": "FPON1", "z": 0.55}, {"gene": "rplV", "s": "FPON2", "z": 1.72}, {"gene": "rplV", "s": "FPON3", "z": 0.34},
      {"gene": "cysP", "s": "control1", "z": -1.76}, {"gene": "cysP", "s": "control2", "z": -0.13}, {"gene": "cysP", "s": "control3", "z": -0.82}, {"gene": "cysP", "s": "FPON1", "z": 0.75}, {"gene": "cysP", "s": "FPON2", "z": 1.28}, {"gene": "cysP", "s": "FPON3", "z": 0.85},
      {"gene": "rplD", "s": "control1", "z": -1.22}, {"gene": "rplD", "s": "control2", "z": -0.84}, {"gene": "rplD", "s": "control3", "z": -1.01}, {"gene": "rplD", "s": "FPON1", "z": 0.78}, {"gene": "rplD", "s": "FPON2", "z": 1.65}, {"gene": "rplD", "s": "FPON3", "z": 0.53},
      {"gene": "ompC", "s": "control1", "z": -1.18}, {"gene": "ompC", "s": "control2", "z": -1.0}, {"gene": "ompC", "s": "control3", "z": -0.81}, {"gene": "ompC", "s": "FPON1", "z": 0.87}, {"gene": "ompC", "s": "FPON2", "z": 1.63}, {"gene": "ompC", "s": "FPON3", "z": 0.65},
      {"gene": "fecB", "s": "control1", "z": -1.27}, {"gene": "fecB", "s": "control2", "z": -0.87}, {"gene": "fecB", "s": "control3", "z": -1.0}, {"gene": "fecB", "s": "FPON1", "z": 0.49}, {"gene": "fecB", "s": "FPON2", "z": 1.52}, {"gene": "fecB", "s": "FPON3", "z": 1.21},
      {"gene": "ivy", "s": "control1", "z": 1.06}, {"gene": "ivy", "s": "control2", "z": 1.5}, {"gene": "ivy", "s": "control3", "z": 0.27}, {"gene": "ivy", "s": "FPON1", "z": -0.84}, {"gene": "ivy", "s": "FPON2", "z": -1.54}, {"gene": "ivy", "s": "FPON3", "z": -0.31},
      {"gene": "pqiC", "s": "control1", "z": 1.24}, {"gene": "pqiC", "s": "control2", "z": 0.24}, {"gene": "pqiC", "s": "control3", "z": 1.51}, {"gene": "pqiC", "s": "FPON1", "z": -0.54}, {"gene": "pqiC", "s": "FPON2", "z": -1.44}, {"gene": "pqiC", "s": "FPON3", "z": -0.98},
      {"gene": "bepA", "s": "control1", "z": 1.38}, {"gene": "bepA", "s": "control2", "z": 0.44}, {"gene": "bepA", "s": "control3", "z": 1.38}, {"gene": "bepA", "s": "FPON1", "z": -1.18}, {"gene": "bepA", "s": "FPON2", "z": -0.79}, {"gene": "bepA", "s": "FPON3", "z": -1.17},
      {"gene": "pstS", "s": "control1", "z": 1.06}, {"gene": "pstS", "s": "control2", "z": 0.31}, {"gene": "pstS", "s": "control3", "z": 1.54}, {"gene": "pstS", "s": "FPON1", "z": -1.72}, {"gene": "pstS", "s": "FPON2", "z": -0.55}, {"gene": "pstS", "s": "FPON3", "z": -0.68}
    ],
    "dendro": [
      {"h1": 0, "h2": 24.7, "r1": 1, "r2": 1}, {"h1": 0, "h2": 24.7, "r1": 2, "r2": 2},
      {"h1": 0, "h2": 24.7, "r1": 3, "r2": 3}, {"h1": 0, "h2": 24.7, "r1": 4, "r2": 4},
      {"h1": 0, "h2": 29.3, "r1": 5, "r2": 5}, {"h1": 0, "h2": 29.3, "r1": 6, "r2": 6},
      {"h1": 0, "h2": 28.3, "r1": 7, "r2": 7}, {"h1": 0, "h2": 28.3, "r1": 8, "r2": 8},
      {"h1": 0, "h2": 20.7, "r1": 9, "r2": 9}, {"h1": 0, "h2": 20.7, "r1": 10, "r2": 10},
      {"h1": 0, "h2": 24.7, "r1": 11, "r2": 11}, {"h1": 0, "h2": 37.3, "r1": 12, "r2": 12},
      {"h1": 0, "h2": 33.3, "r1": 13, "r2": 13}, {"h1": 0, "h2": 29, "r1": 14, "r2": 14},
      {"h1": 0, "h2": 29, "r1": 15, "r2": 15},
      {"h1": 24.7, "h2": 24.7, "r1": 1, "r2": 2}, {"h1": 24.7, "h2": 24.7, "r1": 3, "r2": 4},
      {"h1": 29.3, "h2": 29.3, "r1": 1.5, "r2": 3.5}, {"h1": 29.3, "h2": 29.3, "r1": 5, "r2": 6},
      {"h1": 33.3, "h2": 33.3, "r1": 2.5, "r2": 5.5}, {"h1": 28.3, "h2": 28.3, "r1": 7, "r2": 8},
      {"h1": 20.7, "h2": 20.7, "r1": 9, "r2": 10}, {"h1": 24.7, "h2": 24.7, "r1": 9.5, "r2": 11},
      {"h1": 32.3, "h2": 32.3, "r1": 7.5, "r2": 10.25}, {"h1": 37.3, "h2": 37.3, "r1": 4, "r2": 8.875},
      {"h1": 29, "h2": 29, "r1": 14, "r2": 15}, {"h1": 33.3, "h2": 33.3, "r1": 13, "r2": 14.5},
      {"h1": 37.3, "h2": 37.3, "r1": 12, "r2": 13.75}, {"h1": 42.3, "h2": 42.3, "r1": 6.4375, "r2": 12.875},
      {"h1": 24.7, "h2": 29.3, "r1": 1.5, "r2": 1.5}, {"h1": 24.7, "h2": 29.3, "r1": 3.5, "r2": 3.5},
      {"h1": 29.3, "h2": 33.3, "r1": 2.5, "r2": 2.5}, {"h1": 29.3, "h2": 33.3, "r1": 5.5, "r2": 5.5},
      {"h1": 28.3, "h2": 32.3, "r1": 7.5, "r2": 7.5}, {"h1": 20.7, "h2": 24.7, "r1": 9.5, "r2": 9.5},
      {"h1": 24.7, "h2": 32.3, "r1": 10.25, "r2": 10.25}, {"h1": 33.3, "h2": 37.3, "r1": 4, "r2": 4},
      {"h1": 32.3, "h2": 37.3, "r1": 8.875, "r2": 8.875}, {"h1": 29, "h2": 33.3, "r1": 14.5, "r2": 14.5},
      {"h1": 33.3, "h2": 37.3, "r1": 13.75, "r2": 13.75}, {"h1": 37.3, "h2": 42.3, "r1": 6.4375, "r2": 6.4375},
      {"h1": 37.3, "h2": 42.3, "r1": 12.875, "r2": 12.875}
    ]
  }
}
